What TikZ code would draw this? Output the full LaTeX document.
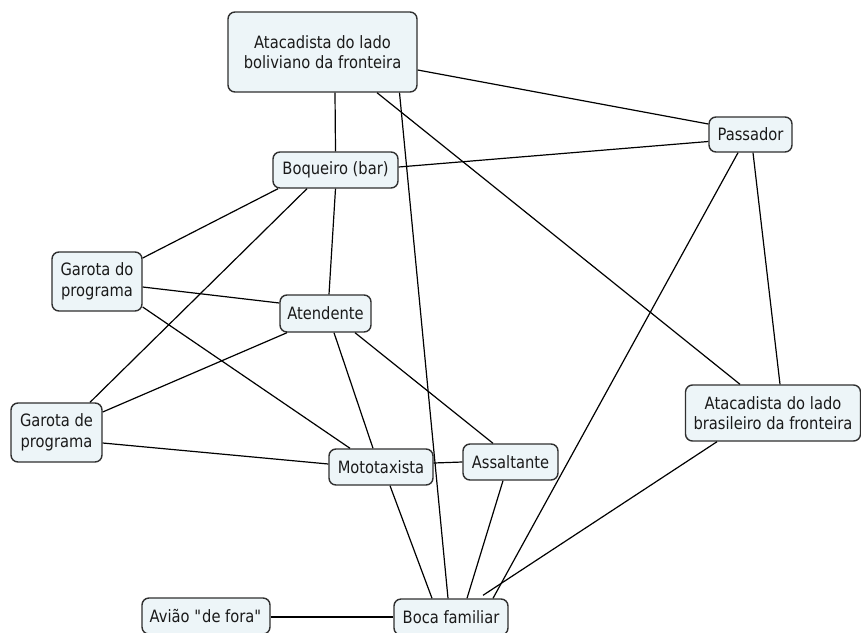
\documentclass[tikz,border=0pt]{standalone}
\usepackage{fontspec}
\setmainfont{DejaVu Sans}[FakeStretch=0.865]
\usetikzlibrary{calc}
\definecolor{boxfill}{HTML}{EDF5F8}
\definecolor{boxline}{HTML}{303030}
\definecolor{txt}{HTML}{1A1A1A}
\tikzset{
  concept/.style={draw=boxline, fill=boxfill, line width=1.4pt, rounded corners=7pt,
    inner sep=0pt, align=center, font=\fontsize{17}{20.5}\selectfont, text=txt},
  link/.style={draw=black, line width=1.2pt}
}
\begin{document}
\begin{tikzpicture}[x=1pt,y=-1pt]
\useasboundingbox (0,0) rectangle (861,632);
\clip (0,0) rectangle (861,632);
\fill[white] (0,0) rectangle (861,632);
% nodes
\node[concept, minimum width=189pt, minimum height=80pt] (bol) at (322.5,52) {Atacadista do lado\\boliviano da fronteira};
\node[concept, minimum width=83pt, minimum height=35pt] (pas) at (750.5,134.5) {Passador};
\node[concept, minimum width=125pt, minimum height=36pt] (boq) at (335.5,170) {Boqueiro (bar)};
\node[concept, minimum width=90pt, minimum height=59pt] (gdo) at (97,281.5) {Garota do\\programa};
\node[concept, minimum width=91pt, minimum height=37pt] (ate) at (325.5,313.5) {Atendente};
\node[concept, minimum width=91pt, minimum height=59pt] (gde) at (56.5,432.5) {Garota de\\programa};
\node[concept, minimum width=175pt, minimum height=56pt] (abr) at (773,413) {Atacadista do lado\\brasileiro da fronteira};
\node[concept, minimum width=104pt, minimum height=36pt] (mot) at (381,467) {Mototaxista};
\node[concept, minimum width=95pt, minimum height=36pt] (ass) at (510.5,462) {Assaltante};
\node[concept, minimum width=128pt, minimum height=36pt] (avi) at (206,616) {Avião \textquotedbl de fora\textquotedbl};
\node[concept, minimum width=114pt, minimum height=36pt] (boca) at (451,617) {Boca familiar};
% links
\draw[link] ($(bol.east)+(0,18)$) -- ($(pas.west)+(0,-10.5)$);
\draw[link] ($(bol.south)+(12.5,0)$) -- (boq.north);
\draw[link] ($(bol.south)+(77,0)$) -- ($(boca.north)+(-3,0)$);
\draw[link] ($(bol.south)+(54.5,0)$) -- ($(abr.north)+(-33,0)$);
\draw[link] ($(pas.west)+(0,7)$) -- ($(boq.east)+(0,-3)$);
\draw[link] ($(pas.south)+(-12.5,0)$) -- ($(boca.north)+(42,0)$);
\draw[link] ($(pas.south)+(2.5,0)$) -- ($(abr.north)+(7,0)$);
\draw[link] ($(boq.south)+(-57.5,0)$) -- ($(gdo.east)+(0,-23.5)$);
\draw[link] ($(boq.south)+(-28.5,0)$) -- ($(gde.north)+(33.5,0)$);
\draw[link] (boq.south) -- ($(ate.north)+(3.5,0)$);
\draw[link] ($(gdo.east)+(0,5.5)$) -- ($(ate.west)+(0,-10.5)$);
\draw[link] ($(gdo.east)+(0,25.5)$) -- ($(mot.north)+(-31,0)$);
\draw[link] ($(ate.south)+(-38.5,0)$) -- ($(gde.east)+(0,-20.5)$);
\draw[link] ($(ate.south)+(8.5,0)$) -- ($(mot.north)+(-8,0)$);
\draw[link] ($(ate.south)+(29.5,0)$) -- ($(ass.north)+(-17.5,0)$);
\draw[link] ($(gde.east)+(0,10.5)$) -- ($(mot.west)+(0,-3)$);
\draw[link] ($(mot.east)+(0,-4)$) -- ($(ass.west)+(0,0)$);
\draw[link] ($(mot.south)+(9,0)$) -- ($(boca.north)+(-19,0)$);
\draw[link] ($(ass.south)+(-7.5,0)$) -- ($(boca.north)+(16,0)$);
\draw[link] ($(abr.south)+(-56,0)$) -- ($(boca.north)+(32,-3)$);
\draw[link] ($(avi.east)+(0,1)$) -- (boca.west);
\end{tikzpicture}
\end{document}
